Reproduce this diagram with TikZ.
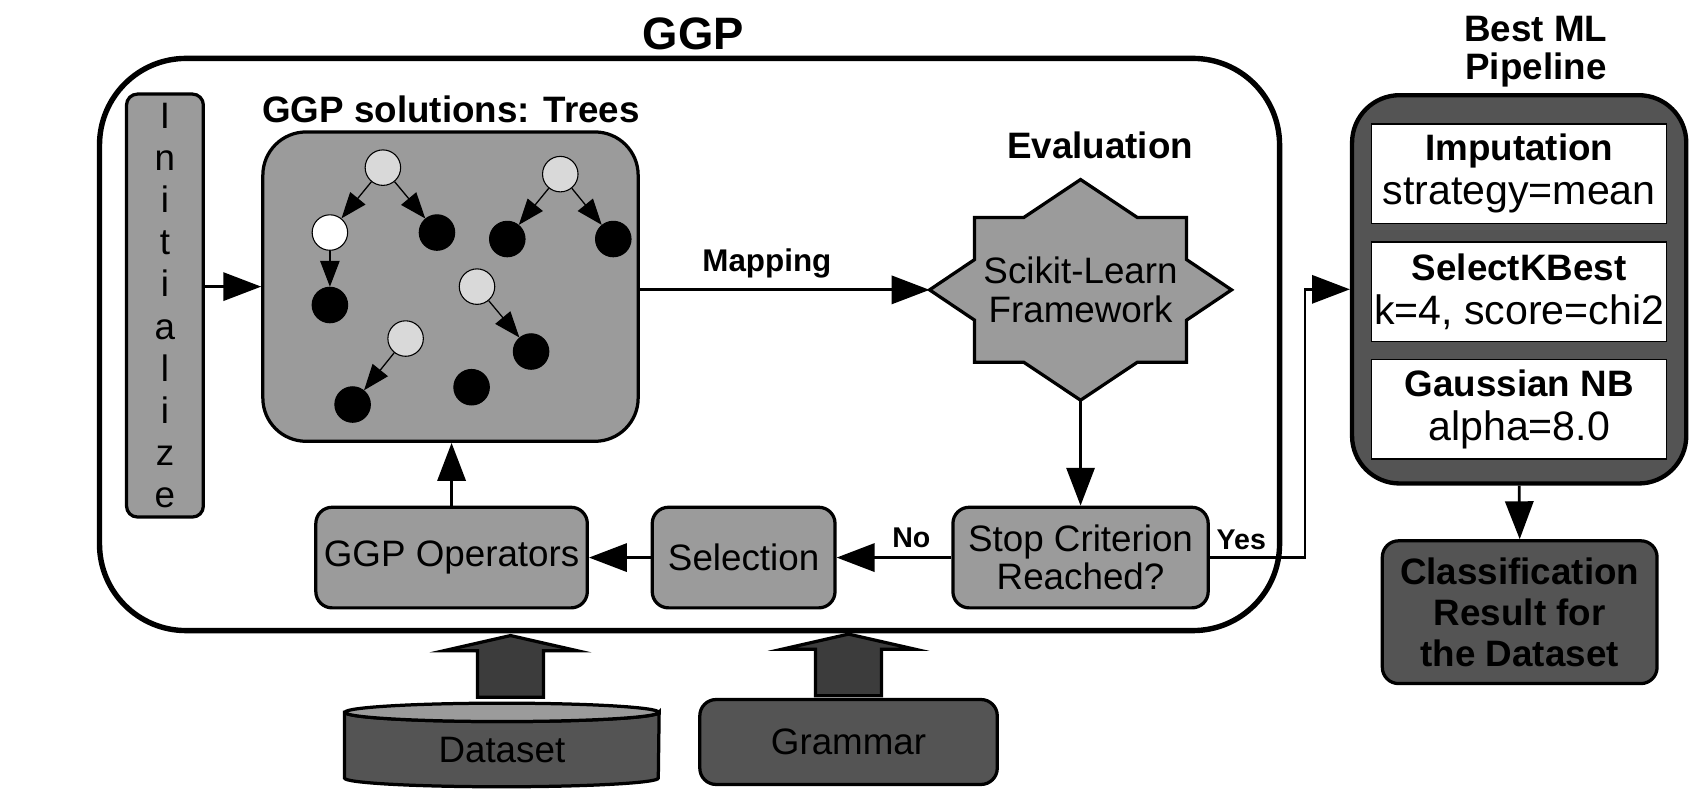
\documentclass[tikz,border=0pt]{standalone}
\usepackage{fontspec}
\setmainfont{Liberation Sans}
\usetikzlibrary{arrows.meta,calc}

\definecolor{boxgray}{HTML}{9B9B9B}
\definecolor{darkbox}{HTML}{545454}
\definecolor{arrowfill}{HTML}{3C3C3C}
\definecolor{lightnode}{HTML}{D9D9D9}

\tikzset{
  ggphead/.style={font=\bfseries\fontsize{21}{24}\selectfont},
  heading/.style={font=\bfseries\fontsize{17}{17.5}\selectfont, align=center},
  edgelabel/.style={font=\bfseries\fontsize{13.2}{15}\selectfont},
  stage/.style={draw, line width=1.5pt, fill=boxgray, rounded corners=7.5pt,
    align=center, inner sep=0pt, font=\fontsize{17}{17.8}\selectfont},
  pipestep/.style={draw, line width=0.6pt, fill=white, inner sep=0pt, align=center,
    minimum width=136.5pt, minimum height=46pt, font=\fontsize{19}{20.5}\selectfont},
  rootnode/.style={circle, draw, line width=0.5pt, fill=lightnode, inner sep=0pt, minimum size=16.4pt},
  midnode/.style={rootnode, fill=white},
  leafnode/.style={rootnode, fill=black},
  flow/.style={line width=1.3pt, -{Triangle[length=17.5pt,width=13pt]}},
  treeflow/.style={line width=0.6pt, -{Triangle[length=12pt,width=9pt]}},
  blockarrow/.style={draw, line width=1.5pt, fill=arrowfill},
}

\begin{document}
\begin{tikzpicture}[x=0.5pt,y=-0.5pt]
  \useasboundingbox (0,0) rectangle (1568,747);

  % GGP frame
  \draw[line width=2.5pt, rounded corners=40pt] (92,54) rectangle (1183,583);
  \node[ggphead] (ggptitle) at (641,31) {GGP};

  \node[stage, rounded corners=5pt, minimum width=35.5pt, minimum height=195.5pt,
    font=\fontsize{17}{19.45}\selectfont] (init) at (152.5,282.5)
    {I\\n\\i\\t\\i\\a\\l\\i\\z\\e};

  % population of trees
  \node[heading] (treetitle) at (417,101) {GGP solutions: Trees};
  \node[stage, rounded corners=20pt, minimum width=173.5pt, minimum height=143pt] (trees) at (416.5,265) {};
  \node[rootnode] (r1) at (354,155) {};
  \node[midnode] (w1) at (305,215) {};
  \node[leafnode] (b1) at (404,215) {};
  \node[leafnode] (b1w) at (305,282) {};
  \node[rootnode] (r2) at (518,161) {};
  \node[leafnode] (b2) at (469,221) {};
  \node[leafnode] (b3) at (567,221) {};
  \node[rootnode] (r3) at (441,265) {};
  \node[leafnode] (b4) at (491,325) {};
  \node[rootnode] (r4) at (375,313) {};
  \node[leafnode] (b5) at (326,374) {};
  \node[leafnode] (b6) at (436,358) {};
  \foreach \a/\b in {r1/w1, r1/b1, w1/b1w, r2/b2, r2/b3, r3/b4, r4/b5}
    \draw[treeflow] (\a) -- (\b);

  % evaluation
  \node[heading] (evaltitle) at (1017,134) {Evaluation};
  \coordinate (evalc) at (999,268);
  \begin{scope}[shift={(evalc)}]
    \draw[line width=1.5pt, fill=boxgray] (0,-102) -- (52.4,-67) -- (98,-67) -- (98,-28)
      -- (139.6,0) coordinate (evalE) -- (98,28) -- (98,67) -- (52.4,67)
      -- (0,102) coordinate (evalS) -- (-52.4,67) -- (-98,67) -- (-98,28)
      -- (-139.6,0) coordinate (evalW) -- (-98,-28) -- (-98,-67) -- (-52.4,-67) -- cycle;
  \end{scope}
  \node[align=center, font=\fontsize{17}{18}\selectfont] (evaltxt) at (evalc) {Scikit-Learn\\Framework};

  % loop
  \node[stage, minimum width=118pt, minimum height=46.5pt] (stop) at (999,515.5) {Stop Criterion\\Reached?};
  \node[stage, minimum width=84.5pt, minimum height=46.5pt] (sel) at (687.5,515.5) {Selection};
  \node[stage, minimum width=125.5pt, minimum height=46.5pt] (ops) at (417.5,515.5) {GGP Operators};

  \draw[flow] (init.east |- trees.west) -- (trees.west);
  \draw[flow] (trees.east |- evalW) -- (evalW);
  \node[edgelabel, font=\bfseries\fontsize{14.5}{16}\selectfont] (maplbl) at (709,244) {Mapping};
  \draw[flow] (evalS) -- (stop.north);
  \draw[flow] (stop.west) -- (sel.east);
  \node[edgelabel] (nolbl) at (842.6,497) {No};
  \draw[flow] (sel.west) -- (ops.east);
  \draw[flow] (ops.north) -- (ops.north |- trees.south);

  % best pipeline
  \node[heading] (besttitle) at (1420,48) {Best ML\\Pipeline};
  \node[draw, line width=2pt, fill=darkbox, rounded corners=22pt,
    minimum width=154.5pt, minimum height=179.5pt] (best) at (1404.5,267.5) {};
  \node[pipestep] (impute) at (1404.5,160.6) {\textbf{\fontsize{17}{20.5}\selectfont Imputation}\\strategy=mean};
  \node[pipestep] (kbest) at (1404.5,269.8) {\textbf{\fontsize{17}{20.5}\selectfont SelectKBest}\\k=4, score=chi2};
  \node[pipestep] (gnb) at (1404.5,378.5) {\textbf{\fontsize{17}{20.5}\selectfont Gaussian NB}\\alpha=8.0};
  \draw[flow] (stop.east) -- ++(88,0) |- (best.west);
  \node[edgelabel] (yeslbl) at (1147.6,499) {Yes};

  \node[stage, fill=darkbox, minimum width=127pt, minimum height=66pt,
    font=\bfseries\fontsize{17}{19}\selectfont] (result) at (1405,566)
    {Classification\\Result for\\the Dataset};
  \draw[flow] (best.south) -- (result.north);

  % inputs
  \node[inner sep=0pt, minimum width=145pt, minimum height=30pt] (ds) at (464,689) {};
  \draw[line width=1.5pt, fill=darkbox] (ds.north west) -- (ds.south west)
    arc[start angle=180, end angle=360, x radius=72.5pt, y radius=4pt]
    -- (ds.north east)
    arc[start angle=0, end angle=-180, x radius=72.5pt, y radius=4.25pt] -- cycle;
  \draw[line width=1.5pt, fill=boxgray] (ds.north) ellipse[x radius=72.5pt, y radius=4.25pt];
  \node[font=\fontsize{17}{17.5}\selectfont] (dstext) at ($(ds)+(0,4)$) {Dataset};

  \node[stage, fill=darkbox, minimum width=137.5pt, minimum height=39.25pt] (gram) at (784.5,686) {Grammar};

  \coordinate (dsfeed) at ($(ds.north)+(8,-14)$);
  \coordinate (gramfeed) at ($(gram.north)+(0,-2)$);
  \draw[blockarrow] (dsfeed) -- ++(-30.5,0) -- ++(0,-43) -- ++(-31,0) -- ++(61.5,-14)
    -- ++(61.5,14) -- ++(-31,0) -- ++(0,43) -- cycle;
  \draw[blockarrow] (gramfeed) -- ++(-30.5,0) -- ++(0,-43) -- ++(-31,0) -- ++(61.5,-14)
    -- ++(61.5,14) -- ++(-31,0) -- ++(0,43) -- cycle;
\end{tikzpicture}
\end{document}
